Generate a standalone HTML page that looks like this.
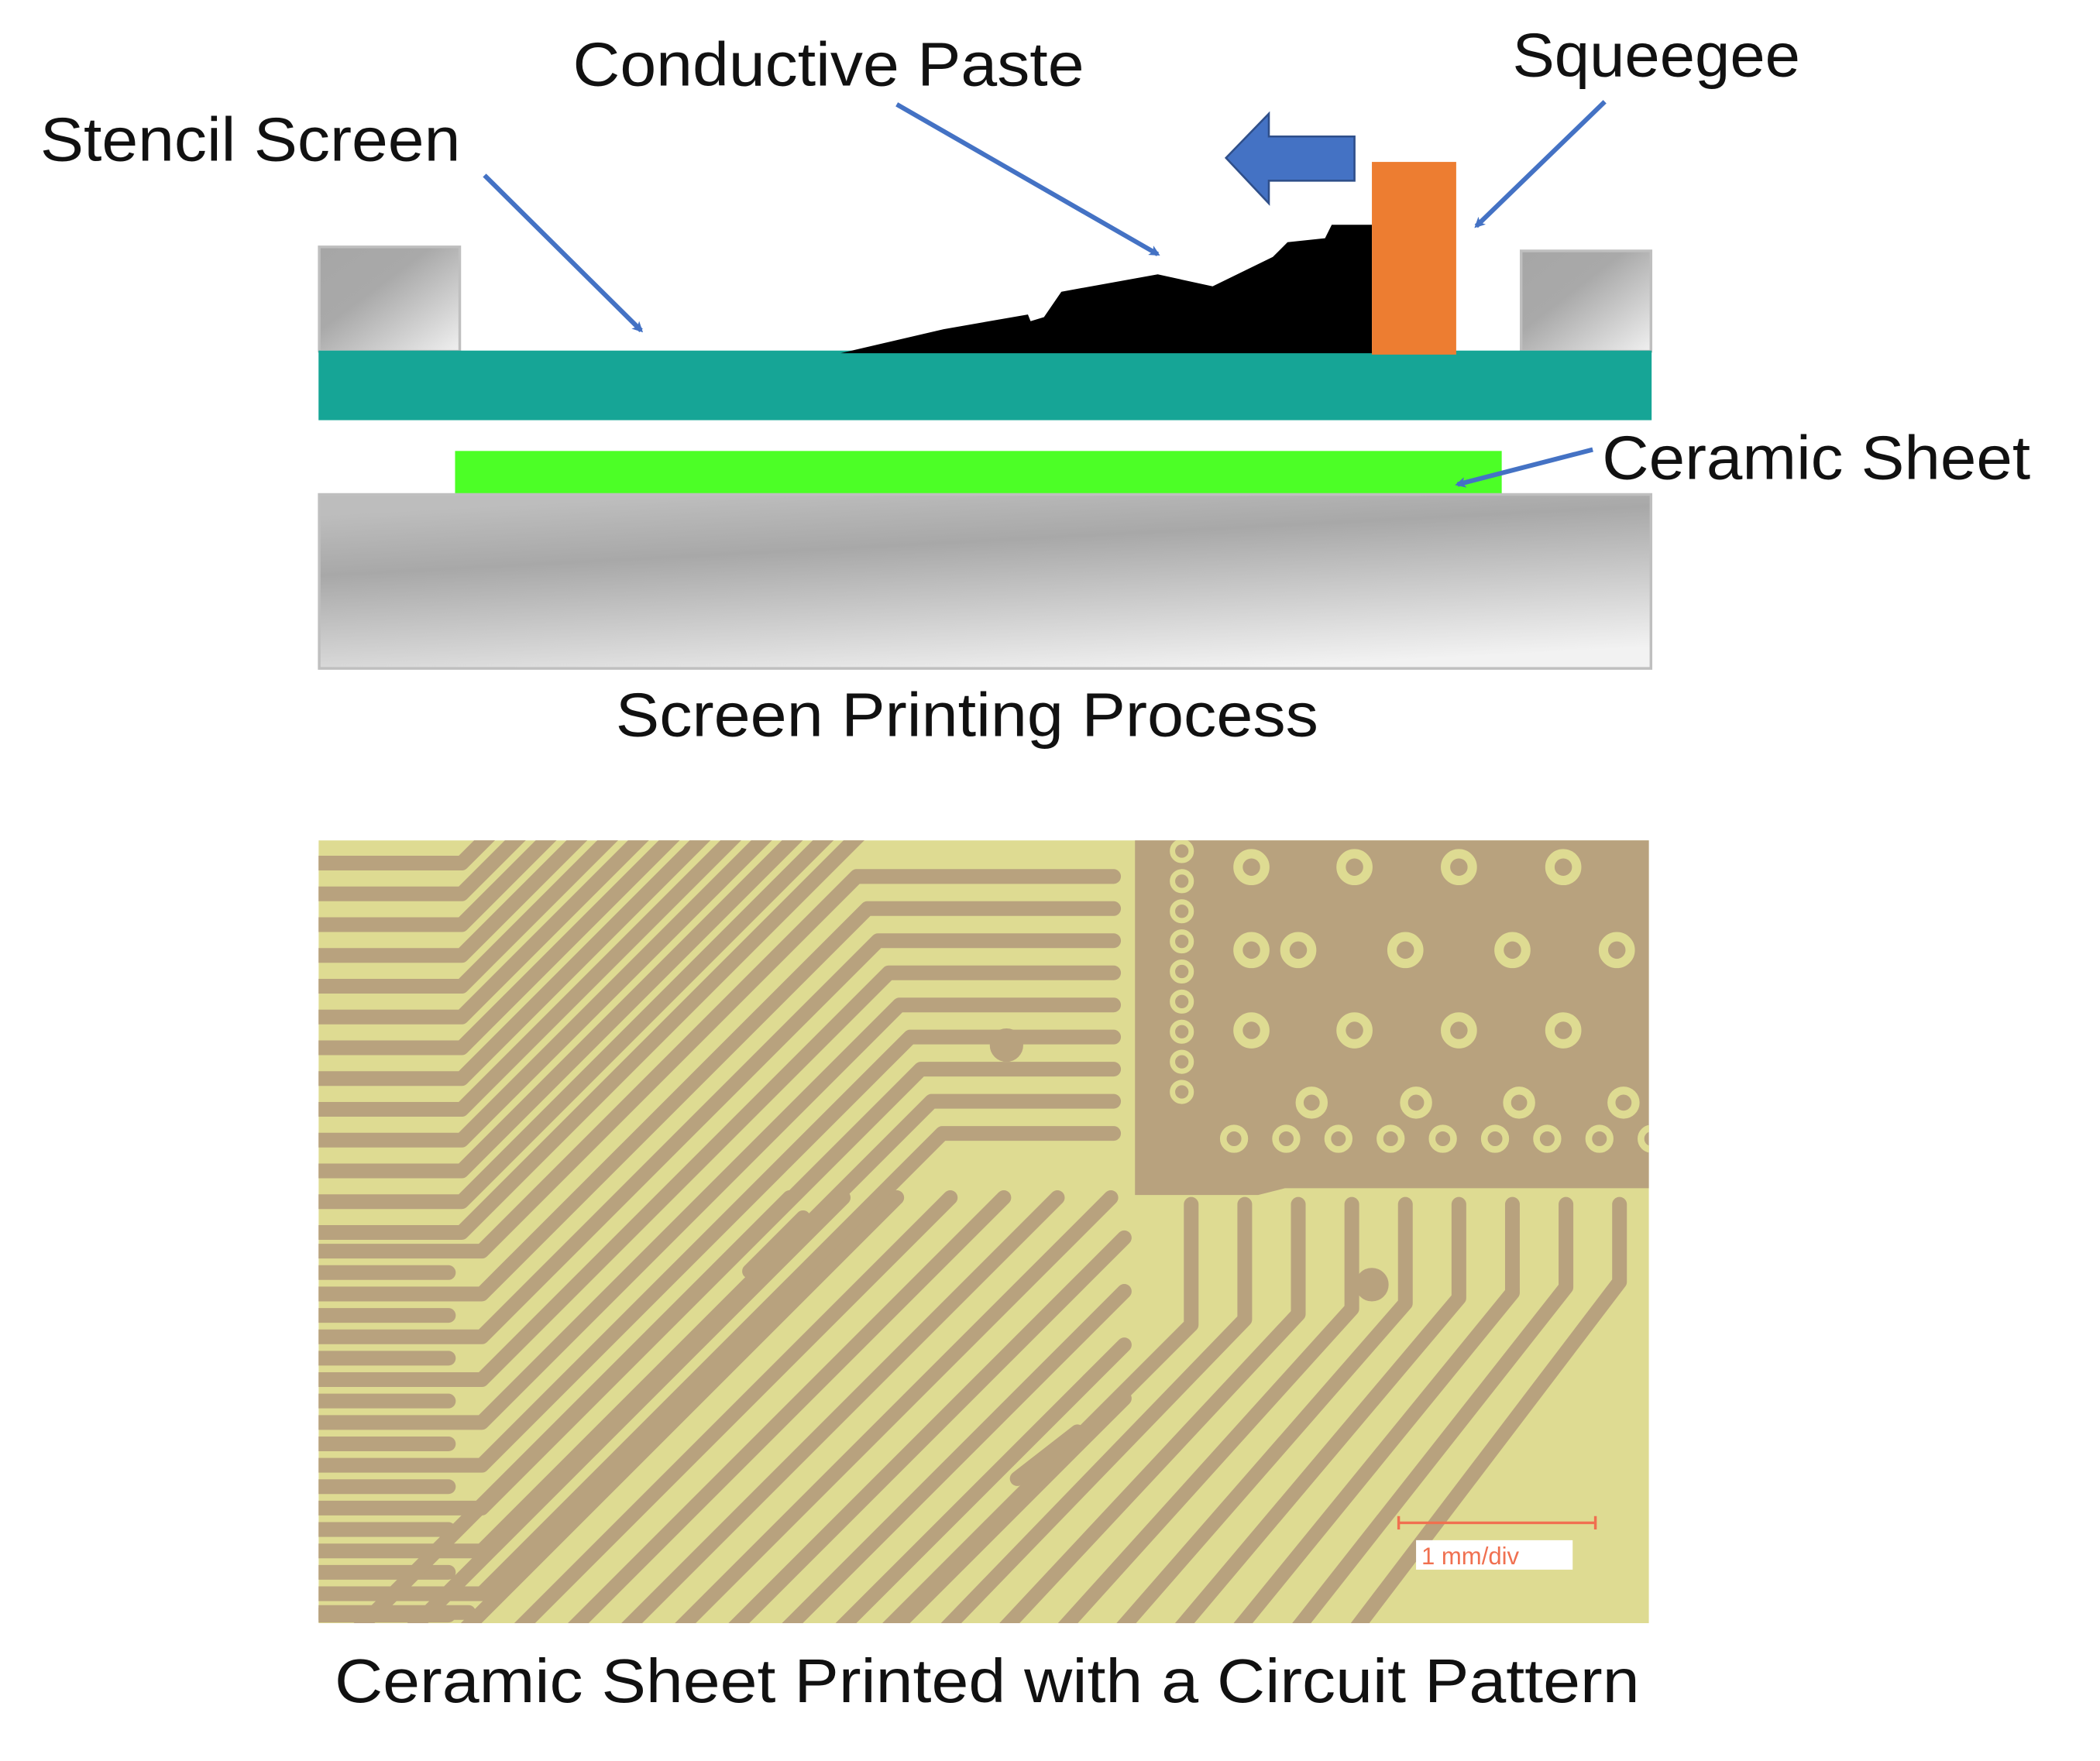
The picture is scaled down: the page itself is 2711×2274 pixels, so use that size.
<!DOCTYPE html>
<html><head><meta charset="utf-8"><style>
html,body{margin:0;padding:0;background:#fff;width:2711px;height:2274px;overflow:hidden}
svg{display:block}
text{font-family:"Liberation Sans",sans-serif;fill:#111}
</style></head><body>
<svg id="s" width="2711" height="2274" viewBox="0 0 1569 1316" preserveAspectRatio="none" xmlns="http://www.w3.org/2000/svg">
<defs>
<linearGradient id="g1" x1="0" y1="0" x2="1" y2="1">
<stop offset="0" stop-color="#a6a6a6"/><stop offset="0.4" stop-color="#a9a9a9"/><stop offset="1" stop-color="#f0f0f0"/></linearGradient>
<linearGradient id="g2" x1="0.3" y1="0" x2="0.7" y2="1">
<stop offset="0" stop-color="#bdbdbd"/><stop offset="0.3" stop-color="#a8a8a8"/><stop offset="1" stop-color="#f2f2f2"/></linearGradient>
<marker id="ah" markerWidth="8" markerHeight="8" refX="6" refY="4" orient="auto" markerUnits="userSpaceOnUse" viewBox="0 0 8 8"><path d="M0,0 L8,4 L0,8 L2,4 z" fill="#4472c4"/></marker>
<clipPath id="pc"><rect x="238" y="628" width="994" height="585"/></clipPath>
</defs>
<text x="30" y="120" font-size="46" textLength="314" lengthAdjust="spacingAndGlyphs">Stencil Screen</text>
<text x="428" y="64" font-size="46" textLength="382" lengthAdjust="spacingAndGlyphs">Conductive Paste</text>
<text x="1130" y="57" font-size="46" textLength="215" lengthAdjust="spacingAndGlyphs">Squeegee</text>
<text x="1197" y="358" font-size="46" textLength="320" lengthAdjust="spacingAndGlyphs">Ceramic Sheet</text>
<text x="460" y="550" font-size="46" textLength="525" lengthAdjust="spacingAndGlyphs">Screen Printing Process</text>
<text x="250" y="1272" font-size="46" textLength="975" lengthAdjust="spacingAndGlyphs">Ceramic Sheet Printed with a Circuit Pattern</text>
<rect x="238.5" y="184.5" width="105" height="78" fill="url(#g1)" stroke="#bfbfbf" stroke-width="2"/>
<rect x="1136.5" y="187.5" width="97" height="75" fill="url(#g1)" stroke="#bfbfbf" stroke-width="2"/>
<rect x="238" y="262" width="996" height="52" fill="#16a596"/>
<rect x="340" y="337" width="782" height="33" fill="#4cff26"/>
<rect x="238.5" y="369.5" width="995" height="130" fill="url(#g2)" stroke="#bfbfbf" stroke-width="2"/>
<polygon points="628,264 705,246 768,235 770,240 780,237 793,218 865,205 906,214 951,192 962,181 990,178 995,168 1025,168 1025,264" fill="#000"/>
<rect x="1025" y="121" width="63" height="144" fill="#ed7d31"/>
<polygon points="916,118 948,85 948,102 1012,102 1012,135 948,135 948,152" fill="#4472c4" stroke="#2f4f8a" stroke-width="1.5"/>
<g stroke="#4472c4" stroke-width="3.5" fill="none" marker-end="url(#ah)">
<line x1="362" y1="131" x2="479" y2="247"/>
<line x1="670" y1="78" x2="865" y2="190"/>
<line x1="1199" y1="76" x2="1103" y2="169"/>
<line x1="1190" y1="336" x2="1089" y2="362"/>
</g>
<g clip-path="url(#pc)">
<rect x="238" y="628" width="994" height="585" fill="#dedb92"/>
<g id="tr" stroke="#b8a27e" stroke-width="11" fill="none" stroke-linecap="round" stroke-linejoin="round"></g>
<path d="M848,628 H1232 V888 H960 L940,893 H848 Z" fill="#b8a27e"/>
<g id="pads" fill="none" stroke="#dedb92"></g>
<line x1="1045" y1="1138" x2="1192" y2="1138" stroke="#f07050" stroke-width="2"/>
<line x1="1045" y1="1133" x2="1045" y2="1143" stroke="#f07050" stroke-width="2"/>
<line x1="1192" y1="1133" x2="1192" y2="1143" stroke="#f07050" stroke-width="2"/>
<rect x="1058" y="1151" width="117" height="22" fill="#fff"/>
<text x="1062" y="1169" font-size="18" style="fill:#f07050">1 mm/div</text>
</g>
</svg>
<script>
var NS="http://www.w3.org/2000/svg",tr=document.getElementById('tr'),pd=document.getElementById('pads');
function pl(p){var e=document.createElementNS(NS,'polyline');e.setAttribute('points',p.map(function(q){return q.join(',')}).join(' '));tr.appendChild(e);}
function ring(x,y,r,w){var c=document.createElementNS(NS,'circle');c.setAttribute('cx',x);c.setAttribute('cy',y);c.setAttribute('r',r);c.setAttribute('stroke-width',w);pd.appendChild(c);}
for(var k=0;k<13;k++){var y=645+k*23;pl([[230,y],[345,y],[345+(y-600),600]]);}
for(var j=0;j<9;j++){var y=655+24*j,xs=640+8*j,yy=y+(xs-360);
 pl([[230,yy],[360,yy],[xs,y],[832,y]]);pl([[230,yy+16],[335,yy+16]]);}
for(var y2=1205;y2<1215;y2+=23)pl([[230,y2],[350,y2]]);
for(var i=0;i<11;i++){var sx=260+40*i,L=Math.min(330,580-40*i);pl([[sx,1225],[sx+L,1225-L]]);}
for(var m=0;m<9;m++){var x=890+40*m;pl([[x,900],[x,990-m*4],[x-235+m*4,1225]]);}
pl([[560,950],[600,910]]);pl([[760,1105],[805,1070]]);
for(var a=0;a<9;a++)ring(883,636+a*22.5,7,4);
[935,1012,1090,1168].forEach(function(x){ring(x,648,10,7);ring(x,770,10,7);});
[935,970,1050,1130,1208].forEach(function(x){ring(x,710,10,7);});
[980,1058,1135,1213].forEach(function(x){ring(x,824,9,6);});
for(var b=0;b<9;b++)ring(922+b*39,851,8,5);
[[752,781],[1025,960]].forEach(function(d){var c=document.createElementNS(NS,'circle');c.setAttribute('cx',d[0]);c.setAttribute('cy',d[1]);c.setAttribute('r',7);c.setAttribute('fill','#b8a27e');tr.appendChild(c);});
</script>
</body></html>
